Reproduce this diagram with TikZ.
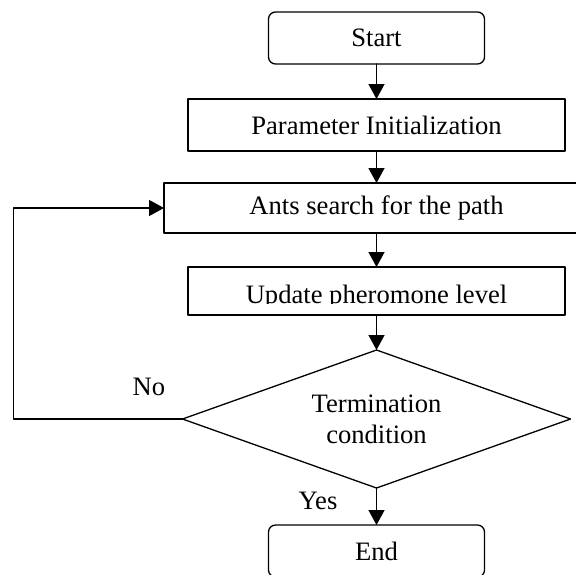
\documentclass[tikz,border=0pt]{standalone}
\usepackage{fontspec}
\setmainfont{Liberation Serif}
\usetikzlibrary{shapes.geometric,arrows.meta}

\begin{document}
\begin{tikzpicture}[x=0.5pt,y=-0.5pt,line cap=round,line join=round,
	every node/.style={font=\fontsize{13.3}{15.5}\selectfont},
	termbox/.style={draw,line width=0.65pt,rounded corners=3.5pt,minimum width=108pt,minimum height=26pt,inner sep=0pt,outer sep=0pt},
	procbox/.style={draw,line width=0.65pt,minimum width=188.5pt,minimum height=26pt,inner sep=0pt,outer sep=0pt},
	decbox/.style={draw,diamond,shape aspect=2.8,line width=0.65pt,minimum width=194pt,minimum height=69pt,inner sep=0pt,outer sep=0pt,align=center},
	flow/.style={line width=0.65pt,-{Triangle[length=7.5pt,width=8pt]}}]
	\clip (0,0) rectangle (576,574);
	\node[termbox] (start) at (376.5,38) {Start};
	\node[procbox] (param) at (376.5,125) {Parameter Initialization};
	\node[procbox,minimum width=212.5pt,minimum height=25pt] (ants) at (376.5,208) {Ants search for the path};
	\node[procbox,minimum height=24pt] (update) at (376.5,291) {};
	\begin{scope}
		\clip (188,267) rectangle (565,303);
		\node[anchor=base] (updtext) at (376.5,303) {Update pheromone level};
	\end{scope}
	\node[decbox] (cond) at (376.5,419) {Termination\\condition};
	\node[termbox] (end) at (376.5,551) {End};
	%% loop back
	\coordinate (loopbot) at (13.6,419);
	\coordinate (looptop) at (13.6,208);
	\draw[flow] (start) -- (param);
	\draw[flow] (param) -- (ants);
	\draw[flow] (ants) -- (update);
	\draw[flow] (update) -- (cond);
	\draw[flow] (cond) -- (end);
	\draw[flow] (cond.west) -- (loopbot) -- (looptop) -- (ants.west);
	\node (nolabel) at (149,387) {No};
	\node (yeslabel) at (318,501) {Yes};
\end{tikzpicture}
\end{document}
